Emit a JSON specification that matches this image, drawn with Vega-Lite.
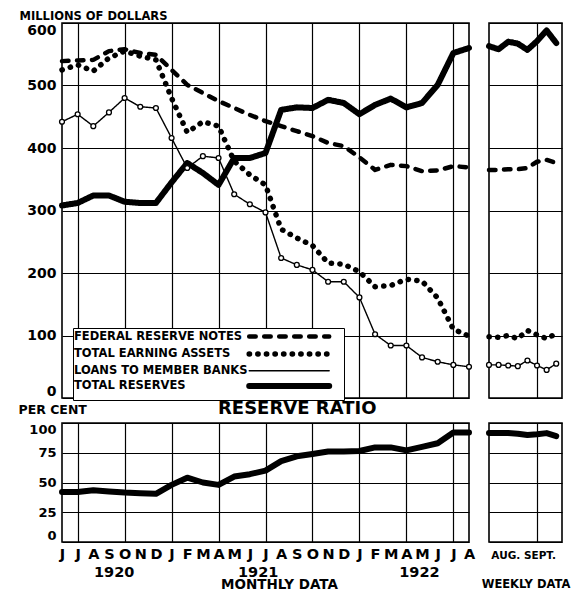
{
  "$schema": "https://vega.github.io/schema/vega-lite/v6.json",
  "background": "white",
  "padding": {"left": 17, "top": 9, "right": 4, "bottom": 2},
  "config": {
    "font": "DejaVu Sans",
    "view": {"stroke": "black", "strokeWidth": 1.6},
    "axis": {"domain": false, "ticks": false, "gridColor": "black", "gridWidth": 1.2, "gridOpacity": 1, "labelFont": "DejaVu Sans", "labelFontWeight": "bold", "labelColor": "black", "titleFont": "DejaVu Sans", "titleFontWeight": "bold", "titleColor": "black", "labelFlush": false, "labelBound": false, "labelOverlap": false},
    "title": {"font": "DejaVu Sans", "fontWeight": "bold", "color": "black"},
    "legend": {"labelFont": "DejaVu Sans", "labelColor": "black", "labelLimit": 400}
  },
  "datasets": {
    "monthly": [
      {"m": 0, "frn": 539, "tea": 525, "loans": 442, "tr": 308, "rr": 42},
      {"m": 1, "frn": 540, "tea": 533, "loans": 454, "tr": 312, "rr": 42},
      {"m": 2, "frn": 541, "tea": 523, "loans": 435, "tr": 324, "rr": 43.5},
      {"m": 3, "frn": 555, "tea": 544, "loans": 457, "tr": 324, "rr": 42.5},
      {"m": 4, "frn": 558, "tea": 555, "loans": 480, "tr": 314, "rr": 41.5},
      {"m": 5, "frn": 552, "tea": 547, "loans": 466, "tr": 312, "rr": 41},
      {"m": 6, "frn": 549, "tea": 541, "loans": 464, "tr": 312, "rr": 40.5},
      {"m": 7, "frn": 525, "tea": 480, "loans": 416, "tr": 345, "rr": 48},
      {"m": 8, "frn": 501, "tea": 425, "loans": 368, "tr": 376, "rr": 54},
      {"m": 9, "frn": 488, "tea": 442, "loans": 387, "tr": 360, "rr": 50},
      {"m": 10, "frn": 475, "tea": 435, "loans": 384, "tr": 341, "rr": 48},
      {"m": 11, "frn": 464, "tea": 379, "loans": 326, "tr": 384, "rr": 55},
      {"m": 12, "frn": 453, "tea": 357, "loans": 310, "tr": 384, "rr": 57},
      {"m": 13, "frn": 443, "tea": 341, "loans": 297, "tr": 392, "rr": 60},
      {"m": 14, "frn": 435, "tea": 270, "loans": 224, "tr": 461, "rr": 68},
      {"m": 15, "frn": 427, "tea": 256, "loans": 213, "tr": 465, "rr": 72},
      {"m": 16, "frn": 419, "tea": 244, "loans": 205, "tr": 464, "rr": 74},
      {"m": 17, "frn": 408, "tea": 216, "loans": 186, "tr": 477, "rr": 76},
      {"m": 18, "frn": 403, "tea": 214, "loans": 186, "tr": 472, "rr": 76},
      {"m": 19, "frn": 385, "tea": 202, "loans": 161, "tr": 454, "rr": 76.5},
      {"m": 20, "frn": 365, "tea": 178, "loans": 102, "tr": 469, "rr": 79.5},
      {"m": 21, "frn": 373, "tea": 180, "loans": 84, "tr": 479, "rr": 79.5},
      {"m": 22, "frn": 371, "tea": 190, "loans": 84, "tr": 465, "rr": 77},
      {"m": 23, "frn": 363, "tea": 187, "loans": 65, "tr": 472, "rr": 80},
      {"m": 24, "frn": 364, "tea": 160, "loans": 58, "tr": 501, "rr": 83},
      {"m": 25, "frn": 371, "tea": 110, "loans": 53, "tr": 552, "rr": 92},
      {"m": 26, "frn": 369, "tea": 99, "loans": 50, "tr": 560, "rr": 92}
    ],
    "weekly": [
      {"w": 0, "frn": 365, "tea": 98, "loans": 53, "tr": 563, "rr": 91.5},
      {"w": 1, "frn": 365, "tea": 97, "loans": 53, "tr": 558, "rr": 91.5},
      {"w": 2, "frn": 366, "tea": 100, "loans": 52, "tr": 570, "rr": 91.5},
      {"w": 3, "frn": 366, "tea": 95, "loans": 51, "tr": 567, "rr": 91},
      {"w": 4, "frn": 368, "tea": 108, "loans": 60, "tr": 557, "rr": 90},
      {"w": 5, "frn": 378, "tea": 101, "loans": 52, "tr": 571, "rr": 90.5},
      {"w": 6, "frn": 381, "tea": 95, "loans": 45, "tr": 588, "rr": 91.5},
      {"w": 7, "frn": 376, "tea": 103, "loans": 55, "tr": 568, "rr": 89}
    ]
  },
  "vconcat": [
    {
      "hconcat": [
        {
          "width": 407,
          "height": 375,
          "data": {"name": "monthly"},
          "transform": [{"fold": ["frn", "tea", "loans", "tr"], "as": ["s", "v"]}],
          "encoding": {
            "x": {"field": "m", "type": "quantitative", "scale": {"domain": [0, 26], "nice": false, "zero": false},
                  "axis": {"values": [1, 4, 7, 10, 13, 16, 19, 22, 25], "labels": false, "grid": true, "title": null}},
            "y": {"field": "v", "type": "quantitative", "scale": {"domain": [0, 600], "nice": false},
                  "axis": {"values": [0, 100, 200, 300, 400, 500, 600], "grid": true, "labelFontSize": 14, "labelPadding": 6, "labelFlush": true,
                           "title": "MILLIONS OF DOLLARS", "titleAngle": 0, "titleAlign": "left", "titleBaseline": "alphabetic", "titleX": -43, "titleY": -4, "titleFontSize": 11.5}}
          },
          "layer": [
            {
              "mark": {"type": "line", "color": "black", "strokeCap": "round", "strokeJoin": "round"},
              "encoding": {
                "strokeDash": {"field": "s", "type": "nominal",
                  "scale": {"domain": ["frn", "tea", "loans", "tr"], "range": [[6.5, 8.5], [0.3, 8.3], [1, 0], [1, 0]]},
                  "legend": {"title": null, "orient": "none", "legendX": 11, "legendY": 305, "padding": 2, "strokeColor": "black", "fillColor": "white",
                             "symbolType": "M41.8,0H61.8", "symbolSize": 64, "symbolStrokeColor": "black", "labelFontSize": 11.5, "labelFontWeight": "bold",
                             "labelOffset": -15, "rowPadding": -3,
                             "encode": {"symbols": {"update": {"strokeCap": {"value": "round"}}}},
                             "labelExpr": "datum.label == 'frn' ? 'FEDERAL RESERVE NOTES' : datum.label == 'tea' ? 'TOTAL EARNING ASSETS' : datum.label == 'loans' ? 'LOANS TO MEMBER BANKS' : 'TOTAL RESERVES'"}},
                "strokeWidth": {"field": "s", "type": "nominal",
                  "scale": {"type": "ordinal", "domain": ["frn", "tea", "loans", "tr"], "range": [4.5, 5.5, 1.4, 6]},
                  "legend": {"title": null, "orient": "none", "legendX": 11, "legendY": 305, "padding": 2, "strokeColor": "black", "fillColor": "white",
                             "symbolType": "M41.8,0H61.8", "symbolSize": 64, "symbolStrokeColor": "black", "labelFontSize": 11.5, "labelFontWeight": "bold",
                             "labelOffset": -15, "rowPadding": -3,
                             "encode": {"symbols": {"update": {"strokeCap": {"value": "round"}}}},
                             "labelExpr": "datum.label == 'frn' ? 'FEDERAL RESERVE NOTES' : datum.label == 'tea' ? 'TOTAL EARNING ASSETS' : datum.label == 'loans' ? 'LOANS TO MEMBER BANKS' : 'TOTAL RESERVES'"}}
              }
            },
            {
              "transform": [{"filter": "datum.s == 'loans'"}],
              "mark": {"type": "point", "shape": "circle", "filled": true, "fill": "white", "stroke": "black", "strokeWidth": 1.3, "size": 24, "opacity": 1}
            }
          ]
        },
        {
          "width": 73,
          "height": 375,
          "data": {"name": "weekly"},
          "transform": [{"fold": ["frn", "tea", "loans", "tr"], "as": ["s", "v"]}],
          "encoding": {
            "x": {"field": "w", "type": "quantitative", "scale": {"domain": [0, 7.6], "nice": false, "zero": false},
                  "axis": {"values": [5], "labels": false, "grid": true, "title": null}},
            "y": {"field": "v", "type": "quantitative", "scale": {"domain": [0, 600], "nice": false},
                  "axis": {"values": [0, 100, 200, 300, 400, 500, 600], "labels": false, "grid": true, "title": null}}
          },
          "layer": [
            {
              "mark": {"type": "line", "color": "black", "strokeCap": "round", "strokeJoin": "round"},
              "encoding": {
                "strokeDash": {"field": "s", "type": "nominal",
                  "scale": {"domain": ["frn", "tea", "loans", "tr"], "range": [[6.5, 8.5], [0.3, 8.3], [1, 0], [1, 0]]}, "legend": null},
                "strokeWidth": {"field": "s", "type": "nominal",
                  "scale": {"type": "ordinal", "domain": ["frn", "tea", "loans", "tr"], "range": [4.5, 5.5, 1.4, 6]}, "legend": null}
              }
            },
            {
              "transform": [{"filter": "datum.s == 'loans'"}],
              "mark": {"type": "point", "shape": "circle", "filled": true, "fill": "white", "stroke": "black", "strokeWidth": 1.3, "size": 24, "opacity": 1}
            }
          ]
        }
      ],
      "spacing": 20,
      "bounds": "flush",
      "resolve": {"scale": {"strokeDash": "independent", "strokeWidth": "independent"}, "legend": {"strokeDash": "independent", "strokeWidth": "independent"}}
    },
    {
      "title": {"text": "RESERVE RATIO", "fontSize": 18, "anchor": "start", "frame": "group", "dx": 156, "offset": -16},
      "hconcat": [
        {
          "width": 407,
          "height": 119,
          "data": {"name": "monthly"},
          "mark": {"type": "line", "color": "black", "strokeWidth": 6, "strokeCap": "round", "strokeJoin": "round"},
          "encoding": {
            "x": {"field": "m", "type": "quantitative", "scale": {"domain": [0, 26], "nice": false, "zero": false},
                  "axis": {"values": [0, 1, 2, 3, 4, 5, 6, 7, 8, 9, 10, 11, 12, 13, 14, 15, 16, 17, 18, 19, 20, 21, 22, 23, 24, 25, 26, 3.3, 12.5, 22.8],
                           "grid": true, "gridOpacity": {"condition": {"test": "datum.value % 3 == 1", "value": 1}, "value": 0},
                           "labelExpr": "datum.value == 3.3 ? ['', '1920'] : datum.value == 12.5 ? ['', '1921'] : datum.value == 22.8 ? ['', '1922'] : ['J','J','A','S','O','N','D','J','F','M','A','M','J','J','A','S','O','N','D','J','F','M','A','M','J','J','A'][datum.value]",
                           "labelFontSize": 14.5, "labelPadding": 5, "labelLineHeight": 18,
                           "title": "MONTHLY DATA", "titleFontSize": 13.5, "titleX": 217, "titleY": 42, "titleBaseline": "middle", "titleAlign": "center"}},
            "y": {"field": "rr", "type": "quantitative", "scale": {"domain": [0, 100], "nice": false},
                  "axis": {"values": [0, 25, 50, 75, 100], "grid": true, "labelFontSize": 13, "labelPadding": 6, "labelFlush": true,
                           "title": "PER CENT", "titleAngle": 0, "titleAlign": "left", "titleBaseline": "middle", "titleX": -44, "titleY": -14, "titleFontSize": 12.5}}
          }
        },
        {
          "width": 73,
          "height": 119,
          "data": {"name": "weekly"},
          "mark": {"type": "line", "color": "black", "strokeWidth": 6, "strokeCap": "round", "strokeJoin": "round"},
          "encoding": {
            "x": {"field": "w", "type": "quantitative", "scale": {"domain": [0, 7.6], "nice": false, "zero": false},
                  "axis": {"values": [1.7, 5, 5.25], "grid": true, "gridOpacity": {"condition": {"test": "datum.value == 5", "value": 1}, "value": 0},
                           "labelExpr": "datum.value == 1.7 ? 'AUG.' : datum.value == 5.25 ? 'SEPT.' : ''",
                           "labelFontSize": 10.5, "labelPadding": 8,
                           "title": "WEEKLY DATA", "titleFontSize": 11.5, "titleY": 42, "titleBaseline": "middle"}},
            "y": {"field": "rr", "type": "quantitative", "scale": {"domain": [0, 100], "nice": false},
                  "axis": {"values": [0, 25, 50, 75, 100], "labels": false, "grid": true, "title": null}}
          }
        }
      ],
      "spacing": 20,
      "bounds": "flush"
    }
  ],
  "spacing": -2
}
